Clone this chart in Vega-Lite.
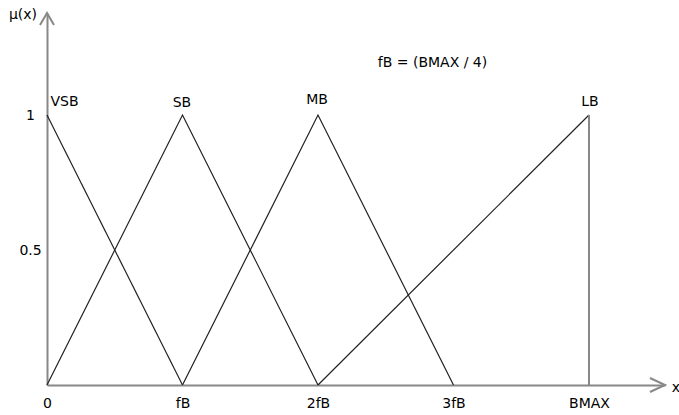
{
  "$schema": "https://vega.github.io/schema/vega-lite/v6.json",
  "width": 618,
  "height": 372,
  "autosize": {"type": "none"},
  "padding": {"left": 47, "top": 13, "right": 14, "bottom": 30},
  "background": "white",
  "config": {
    "view": {"stroke": null},
    "font": "DejaVu Sans",
    "axis": {"grid": false, "title": null}
  },
  "datasets": {
    "lines": [
      {"series": "VSB", "x": 0, "mu": 1},
      {"series": "VSB", "x": 1, "mu": 0},
      {"series": "SB", "x": 0, "mu": 0},
      {"series": "SB", "x": 1, "mu": 1},
      {"series": "SB", "x": 2, "mu": 0},
      {"series": "MB", "x": 1, "mu": 0},
      {"series": "MB", "x": 2, "mu": 1},
      {"series": "MB", "x": 3, "mu": 0},
      {"series": "LB", "x": 2, "mu": 0},
      {"series": "LB", "x": 4, "mu": 1}
    ],
    "edge": [{"x": 4, "mu": 0, "mu2": 1}],
    "labels": [
      {"text": "VSB", "x": 0.129, "mu": 1.05},
      {"text": "SB", "x": 0.996, "mu": 1.043},
      {"text": "MB", "x": 1.993, "mu": 1.054},
      {"text": "LB", "x": 4.007, "mu": 1.05},
      {"text": "fB = (BMAX / 4)", "x": 2.845, "mu": 1.193},
      {"text": "μ(x)", "x": -0.177, "mu": 1.37},
      {"text": "x", "x": 4.642, "mu": -0.011}
    ],
    "xarrow": [{"x": 4.561, "mu": 0}],
    "yarrow": [{"x": 0, "mu": 1.378}]
  },
  "layer": [
    {
      "data": {"name": "lines"},
      "mark": {"type": "line", "color": "#222222", "strokeWidth": 1.2},
      "encoding": {
        "x": {
          "field": "x", "type": "quantitative",
          "scale": {"domain": [0, 4.561], "nice": false, "zero": false},
          "axis": {
            "values": [0, 1, 2, 3, 4],
            "labelExpr": "['0','fB','2fB','3fB','BMAX'][datum.value]",
            "ticks": false, "tickSize": 0,
            "labelPadding": 11,
            "labelFontSize": 14, "labelColor": "#000000",
            "labelFlush": false, "labelBaseline": "top",
            "domainColor": "#888888", "domainWidth": 2
          }
        },
        "y": {
          "field": "mu", "type": "quantitative",
          "scale": {"domain": [0, 1.378], "nice": false, "zero": false},
          "axis": {
            "values": [0.5, 1],
            "labelExpr": "datum.value == 1 ? '1' : '0.5'",
            "ticks": false, "tickSize": 0,
            "labelAlign": "center", "labelBaseline": "middle",
            "labelPadding": 17,
            "labelFontSize": 14, "labelColor": "#000000",
            "labelFlush": false,
            "domainColor": "#888888", "domainWidth": 2
          }
        },
        "detail": {"field": "series"}
      }
    },
    {
      "data": {"name": "edge"},
      "mark": {"type": "rule", "color": "#888888", "strokeWidth": 2},
      "encoding": {
        "x": {"field": "x", "type": "quantitative"},
        "y": {"field": "mu", "type": "quantitative"},
        "y2": {"field": "mu2"}
      }
    },
    {
      "data": {"name": "labels"},
      "mark": {"type": "text", "fontSize": 14, "color": "#000000", "align": "center", "baseline": "middle", "font": "DejaVu Sans"},
      "encoding": {
        "x": {"field": "x", "type": "quantitative"},
        "y": {"field": "mu", "type": "quantitative"},
        "text": {"field": "text"}
      }
    },
    {
      "data": {"name": "xarrow"},
      "mark": {"type": "point", "shape": "M-1,-0.467L0,0L-1,0.467", "size": 900, "filled": false, "stroke": "#888888", "strokeWidth": 2, "opacity": 1, "clip": false},
      "encoding": {
        "x": {"field": "x", "type": "quantitative"},
        "y": {"field": "mu", "type": "quantitative"}
      }
    },
    {
      "data": {"name": "yarrow"},
      "mark": {"type": "point", "shape": "M-0.583,1L0,0L0.583,1", "size": 576, "filled": false, "stroke": "#888888", "strokeWidth": 2, "opacity": 1, "clip": false},
      "encoding": {
        "x": {"field": "x", "type": "quantitative"},
        "y": {"field": "mu", "type": "quantitative"}
      }
    }
  ]
}
